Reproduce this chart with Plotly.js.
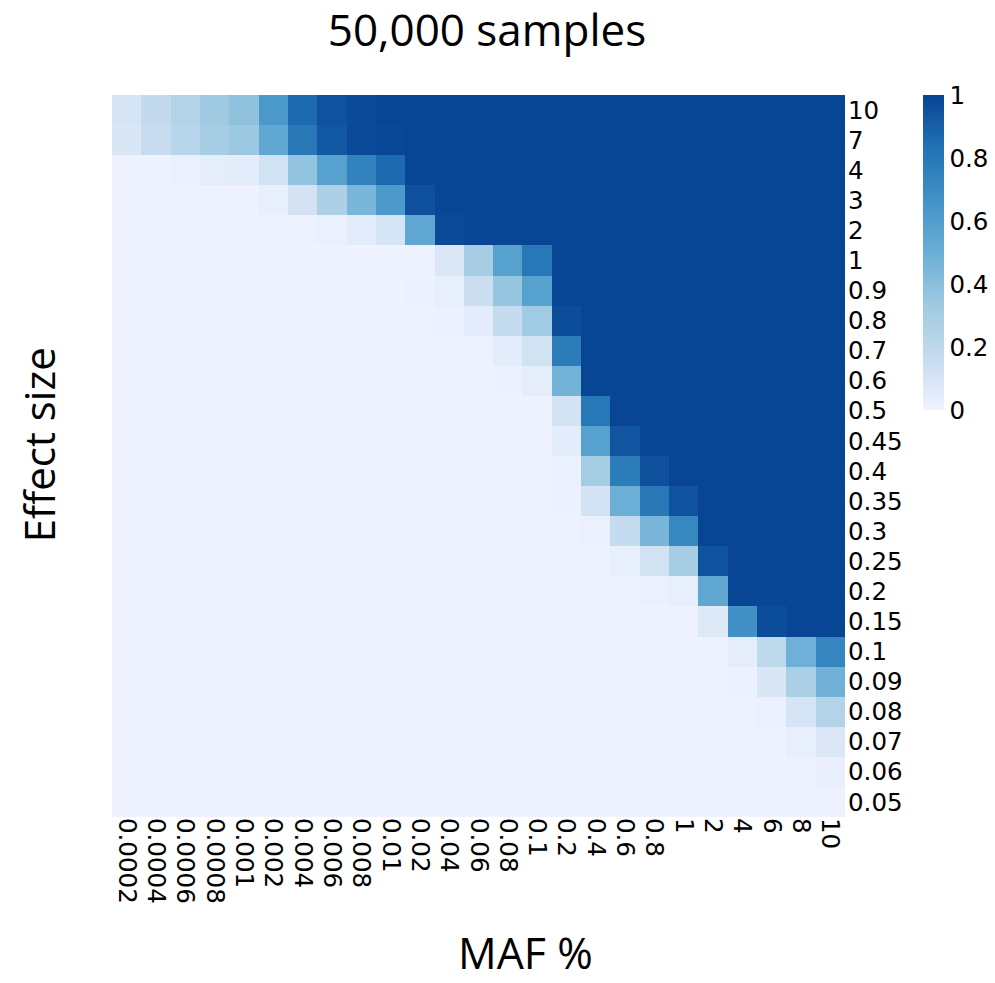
<!DOCTYPE html>
<html>
<head>
<meta charset="utf-8">
<script src="https://cdn.plot.ly/plotly-3.0.1.min.js"></script>
<style>html,body{margin:0;padding:0;background:#fff;}#chart{width:995px;height:983px;}</style>
</head>
<body>
<div id="chart"></div>
<script>
// MAF % categories (columns, left to right)
const mafLabels = ['0.0002','0.0004','0.0006','0.0008','0.001','0.002','0.004','0.006','0.008','0.01','0.02','0.04','0.06','0.08','0.1','0.2','0.4','0.6','0.8','1','2','4','6','8','10'];
// Effect size categories (rows, top to bottom)
const effectLabels = ['10','7','4','3','2','1','0.9','0.8','0.7','0.6','0.5','0.45','0.4','0.35','0.3','0.25','0.2','0.15','0.1','0.09','0.08','0.07','0.06','0.05'];
// Power values, one row per effect size (same order as effectLabels)
const power = [
  [0.10,0.18,0.25,0.33,0.38,0.63,0.86,0.95,0.98,1,1,1,1,1,1,1,1,1,1,1,1,1,1,1,1],
  [0.09,0.16,0.23,0.30,0.34,0.55,0.80,0.93,0.98,0.99,1,1,1,1,1,1,1,1,1,1,1,1,1,1,1],
  [0.01,0.01,0.02,0.04,0.05,0.12,0.37,0.58,0.75,0.86,1,1,1,1,1,1,1,1,1,1,1,1,1,1,1],
  [0,0.005,0.01,0.01,0.01,0.03,0.11,0.27,0.45,0.62,0.96,1,1,1,1,1,1,1,1,1,1,1,1,1,1],
  [0,0,0,0,0,0.005,0.01,0.02,0.05,0.10,0.55,0.98,1,1,1,1,1,1,1,1,1,1,1,1,1],
  [0,0,0,0,0,0,0,0,0,0,0.01,0.08,0.30,0.58,0.80,1,1,1,1,1,1,1,1,1,1],
  [0,0,0,0,0,0,0,0,0,0,0.015,0.03,0.15,0.36,0.58,1,1,1,1,1,1,1,1,1,1],
  [0,0,0,0,0,0,0,0,0,0,0.01,0.015,0.05,0.17,0.32,0.97,1,1,1,1,1,1,1,1,1],
  [0,0,0,0,0,0,0,0,0,0,0.005,0.01,0.01,0.05,0.12,0.78,1,1,1,1,1,1,1,1,1],
  [0,0,0,0,0,0,0,0,0,0,0,0.005,0.01,0.015,0.04,0.47,1,1,1,1,1,1,1,1,1],
  [0,0,0,0,0,0,0,0,0,0,0,0,0.005,0.005,0.01,0.11,0.80,1,1,1,1,1,1,1,1],
  [0,0,0,0,0,0,0,0,0,0,0,0,0,0,0.01,0.05,0.58,0.94,1,1,1,1,1,1,1],
  [0,0,0,0,0,0,0,0,0,0,0,0,0,0,0.005,0.015,0.31,0.78,0.96,1,1,1,1,1,1],
  [0,0,0,0,0,0,0,0,0,0,0,0,0,0,0,0.015,0.11,0.50,0.80,0.95,1,1,1,1,1],
  [0,0,0,0,0,0,0,0,0,0,0,0,0,0,0,0.005,0.02,0.17,0.45,0.72,1,1,1,1,1],
  [0,0,0,0,0,0,0,0,0,0,0,0,0,0,0,0,0.005,0.03,0.12,0.30,0.95,1,1,1,1],
  [0,0,0,0,0,0,0,0,0,0,0,0,0,0,0,0,0,0.01,0.02,0.03,0.55,1,1,1,1],
  [0,0,0,0,0,0,0,0,0,0,0,0,0,0,0,0,0,0,0,0.005,0.07,0.67,0.97,1,1],
  [0,0,0,0,0,0,0,0,0,0,0,0,0,0,0,0,0,0,0,0,0.005,0.04,0.20,0.49,0.73],
  [0,0,0,0,0,0,0,0,0,0,0,0,0,0,0,0,0,0,0,0,0,0.015,0.09,0.28,0.48],
  [0,0,0,0,0,0,0,0,0,0,0,0,0,0,0,0,0,0,0,0,0,0.005,0.02,0.10,0.25],
  [0,0,0,0,0,0,0,0,0,0,0,0,0,0,0,0,0,0,0,0,0,0,0.005,0.03,0.08],
  [0,0,0,0,0,0,0,0,0,0,0,0,0,0,0,0,0,0,0,0,0,0,0,0.01,0.025],
  [0,0,0,0,0,0,0,0,0,0,0,0,0,0,0,0,0,0,0,0,0,0,0,0.005,0.01]
];
const colorTicks = [0,0.2,0.4,0.6,0.8,1];
const colorTickText = ['0','0.2','0.4','0.6','0.8','1'];

const blues = [
  [0,'#eff3ff'],[0.1667,'#c6dbef'],[0.3333,'#9ecae1'],[0.5,'#6baed6'],
  [0.6667,'#4292c6'],[0.8333,'#2171b5'],[1,'#084594']
];
const tickFont = {family:'DejaVu Sans, sans-serif', size:24.5, color:'#000'};
const titleFont = {family:'Open Sans, sans-serif', size:44, color:'#000'};
const xTitleFont = {family:'Open Sans, sans-serif', size:43, color:'#000'};
const yTitleFont = {family:'Open Sans, sans-serif', size:42, color:'#000'};

const trace = {
  type:'heatmap',
  x: mafLabels,
  y: effectLabels,
  z: power,
  zmin:0, zmax:1,
  colorscale: blues,
  xgap:0, ygap:0,
  colorbar:{
    x: 1.106, xanchor:'left', xpad:0,
    y: 1, yanchor:'top', ypad:0,
    len: 315, lenmode:'pixels',
    thickness: 21,
    outlinewidth: 0,
    ticks:'',
    tickvals: colorTicks,
    ticktext: colorTickText,
    tickfont: tickFont
  }
};

const layout = {
  width: 995, height: 983,
  margin:{l:112, r:148, t:95, b:166, pad:0},
  paper_bgcolor:'#fff', plot_bgcolor:'#fff',
  title:{text:'50,000 samples', font:titleFont, x:487/995, xanchor:'center', xref:'container',
         y:1-31/983, yanchor:'middle', yref:'container'},
  xaxis:{type:'category', tickangle:90, tickfont:tickFont, showgrid:false, zeroline:false,
         ticks:'', showline:false, automargin:false},
  yaxis:{type:'category', autorange:'reversed', side:'right', tickfont:tickFont, showgrid:false,
         zeroline:false, ticks:'', showline:false, automargin:false, ticklabelstandoff:2},
  annotations:[
    {text:'MAF %', xref:'paper', yref:'paper', x:0.5635, y:-0.187, xanchor:'center', yanchor:'middle',
     showarrow:false, font:xTitleFont},
    {text:'Effect size', xref:'paper', yref:'paper', x:-0.1007, y:0.515, xanchor:'center', yanchor:'middle',
     textangle:-90, showarrow:false, font:yTitleFont}
  ]
};

Plotly.newPlot('chart', [trace], layout, {displayModeBar:false, staticPlot:true});
</script>
</body>
</html>
